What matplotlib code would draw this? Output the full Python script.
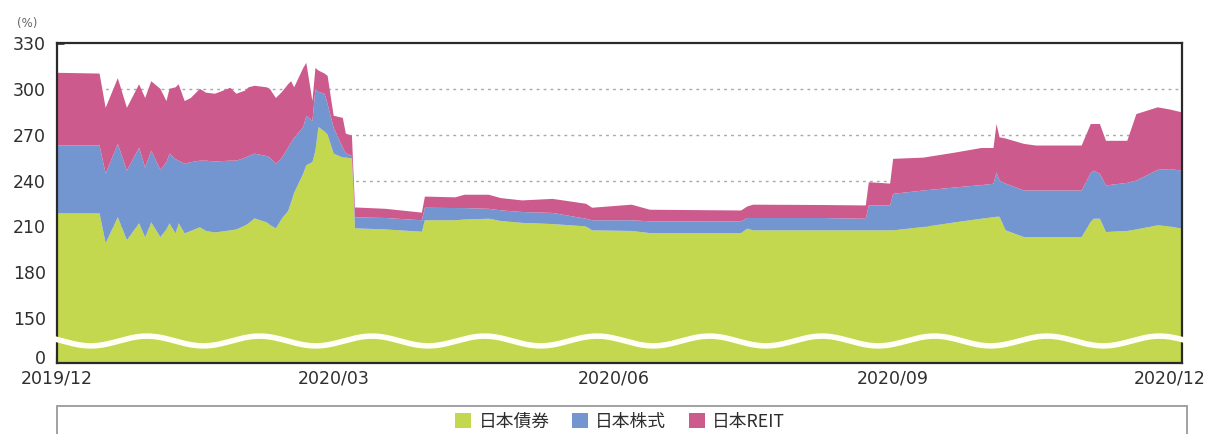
import matplotlib
matplotlib.use("Agg")
import matplotlib.pyplot as plt
import numpy as np
import pandas as pd
from matplotlib.patches import Rectangle

# ---------------- data ----------------
dates = ["2019-12-01","2019-12-15","2019-12-17","2019-12-21","2019-12-24","2019-12-28","2019-12-30",
         "2020-01-01","2020-01-04","2020-01-06","2020-01-07","2020-01-09","2020-01-10","2020-01-12",
         "2020-01-14","2020-01-17","2020-01-19","2020-01-22","2020-01-27","2020-01-29","2020-02-01",
         "2020-02-02","2020-02-04","2020-02-08","2020-02-09","2020-02-11","2020-02-13","2020-02-15",
         "2020-02-16","2020-02-17","2020-02-20","2020-02-21","2020-02-23","2020-02-24","2020-02-25",
         "2020-02-27","2020-02-28","2020-03-01","2020-03-04","2020-03-05","2020-03-07","2020-03-08",
         "2020-03-18","2020-03-30","2020-03-31","2020-04-10","2020-04-13","2020-04-21","2020-04-25",
         "2020-05-02","2020-05-12","2020-05-23","2020-05-25","2020-06-07","2020-06-13","2020-07-13",
         "2020-07-15","2020-07-17","2020-08-08","2020-08-23","2020-08-24","2020-08-31","2020-09-01",
         "2020-09-11","2020-09-22","2020-09-30","2020-10-04","2020-10-05","2020-10-06","2020-10-08",
         "2020-10-14","2020-10-18","2020-11-02","2020-11-05","2020-11-06","2020-11-08","2020-11-10",
         "2020-11-17","2020-11-20","2020-11-27","2020-12-01","2020-12-05"]

bond = [218.5, 218.5, 199.0, 216.0, 201.0, 212.0, 202.8,
        212.6, 203.0, 208.0, 212.0, 205.4, 212.0, 205.4,
        207.0, 209.4, 207.0, 206.0, 207.4, 208.0, 210.7,
        212.0, 215.2, 212.6, 211.0, 208.7, 215.2, 220.0,
        225.7, 232.0, 244.6, 250.0, 252.0, 259.6, 275.0,
        272.0, 270.0, 257.6, 255.0, 255.0, 254.4, 208.7,
        208.0, 206.5, 214.0, 214.0, 214.5, 215.0, 213.5,
        212.3, 211.5, 210.0, 207.4, 207.0, 205.6, 205.6,
        208.5, 207.4, 207.4, 207.4, 207.4, 207.4, 207.4,
        209.6, 212.8, 215.0, 216.0, 216.3, 216.3, 207.4,
        203.0, 203.0, 203.0, 213.0, 215.0, 215.0, 206.3,
        207.0, 208.0, 210.7, 210.0, 208.5]

equity = [44.5, 44.5, 45.6, 48.0, 45.5, 49.5, 45.7,
          47.0, 44.0, 44.0, 45.6, 48.6, 41.0, 45.6,
          45.0, 43.6, 46.0, 46.5, 45.6, 45.0, 44.3,
          44.0, 42.4, 43.4, 44.0, 42.3, 39.8, 41.5,
          39.3, 36.0, 30.4, 32.4, 27.0, 40.4, 23.0,
          24.8, 20.0, 17.0, 6.5, 3.0, 1.6, 7.2,
          7.5, 7.5, 8.2, 8.0, 7.5, 6.5, 7.0,
          7.1, 7.3, 5.0, 6.6, 7.0, 7.7, 7.7,
          7.0, 8.1, 8.1, 7.6, 16.3, 16.3, 23.9,
          23.9, 22.8, 22.0, 21.9, 29.1, 23.7, 30.6,
          30.5, 30.5, 30.5, 32.0, 31.5, 29.4, 30.5,
          31.5, 32.0, 36.3, 37.5, 38.0]

reit = [47.5, 47.0, 43.0, 43.0, 41.1, 41.5, 45.5,
        45.4, 53.0, 40.0, 42.4, 47.0, 50.0, 41.0,
        42.0, 47.0, 44.5, 44.3, 47.7, 43.8, 44.0,
        45.0, 44.4, 45.0, 45.0, 43.0, 43.0, 41.5,
        40.0, 33.0, 38.7, 34.6, 13.0, 13.7, 14.0,
        13.2, 18.5, 7.8, 19.5, 12.7, 13.4, 6.5,
        6.0, 5.0, 7.3, 7.0, 8.7, 9.2, 8.0,
        7.6, 9.2, 9.8, 8.2, 10.2, 7.6, 7.1,
        7.5, 8.7, 8.5, 8.7, 15.2, 14.3, 22.9,
        21.5, 22.9, 24.3, 23.4, 31.6, 28.3, 29.5,
        30.5, 29.4, 29.4, 32.0, 30.5, 32.6, 29.2,
        27.5, 43.5, 40.9, 39.0, 38.1]

series_labels = ["日本債券", "日本株式", "日本REIT"]
colors = ["#C3D84E", "#7496D0", "#CC5A8D"]

ytick_values = [150, 180, 210, 240, 270, 300, 330]
xtick_dates = ["2019-12-01", "2020-03-01", "2020-06-01", "2020-09-01", "2020-12-01"]
xtick_labels = ["2019/12", "2020/03", "2020/06", "2020/09", "2020/12"]

# ---------------- figure ----------------
W, H = 1213, 434
fig = plt.figure(figsize=(W / 100, H / 100), dpi=100)
ax = fig.add_axes([57 / W, 1 - 363 / H, (1182 - 57) / W, (363 - 43) / H])

x = pd.to_datetime(dates)
ax.stackplot(x, bond, equity, reit, colors=colors, linewidth=0, zorder=2)

# broken axis: bottom shows "0" below the wave
Y_BOTTOM = 120.6
Y_ZERO_POS = 124.6
ax.set_ylim(Y_BOTTOM, 330)
ax.set_xlim(x[0], x[-1])

ax.set_yticks([Y_ZERO_POS] + ytick_values)
ax.set_yticklabels(["0"] + [str(v) for v in ytick_values])
ax.set_xticks(pd.to_datetime(xtick_dates))
ax.set_xticklabels(xtick_labels)

# grid (dotted)
for v in ytick_values[:-1]:
    ax.axhline(v, color="#a8a8a8", lw=1.0, ls=(0, (2, 3)), zorder=1)

tc = "#2e2e2e"
ax.tick_params(axis="y", direction="in", length=5, width=1.8, color="#222222",
               labelsize=12.5, labelcolor=tc, pad=8)
ax.tick_params(axis="x", direction="in", length=6, width=1.5, color="#222222",
               labelsize=12.5, labelcolor=tc, pad=5)
for s in ax.spines.values():
    s.set_color("#2a2a2a")
    s.set_linewidth(1.6)

# wave break mark
wx = np.linspace(-0.004, 1.004, 800)
wy = 135.0 - 3.2 * np.sin(2 * np.pi * (wx - 0.005) / 0.1)
ax.plot(wx, wy, color="#FFFFF6", lw=4.0, transform=ax.get_yaxis_transform(),
        clip_on=False, zorder=6, solid_capstyle="butt")

# unit label
fig.text(17 / W, 1 - 23 / H, "(%)", fontsize=8.5, color="#666666", va="center", ha="left")

# legend box
fig.patches.append(Rectangle((57 / W, -0.2), (1187 - 57) / W, 0.2 + (1 - 406 / H),
                             transform=fig.transFigure, fill=False, ec="#9a9a9a", lw=1.3))
handles = [Rectangle((0, 0), 1, 1, fc=c, ec="none") for c in colors]
fig.legend(handles, series_labels, loc="center", bbox_to_anchor=(620 / W, 1 - 422 / H),
           ncol=3, frameon=False, handlelength=0.92, handleheight=0.92,
           handletextpad=0.4, columnspacing=1.25, labelcolor="#2e2e2e",
           prop={"family": ["Noto Sans CJK JP", "DejaVu Sans"], "size": 12.8})

fig.savefig("out.png", dpi=100)
